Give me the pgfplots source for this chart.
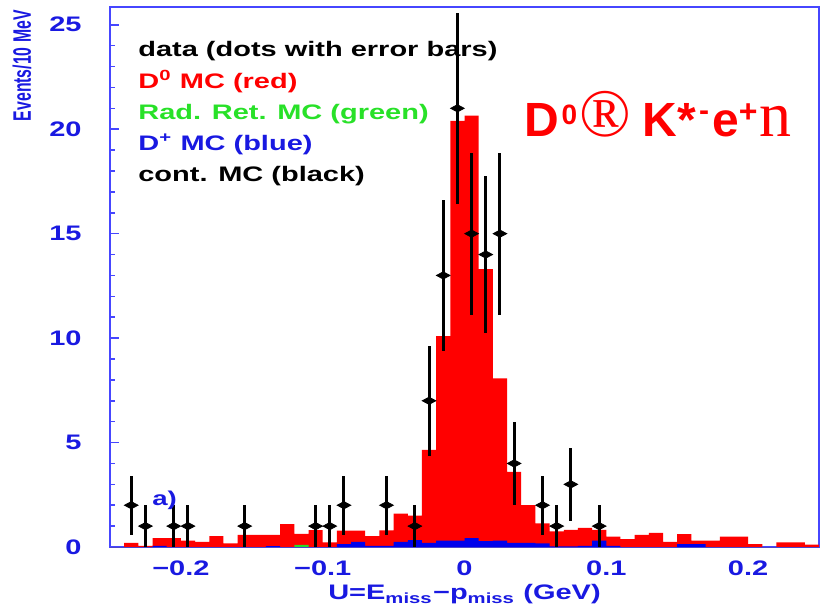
\documentclass[border=0pt]{standalone}
\usepackage{graphicx}
\usepackage{pgfplots}
\pgfplotsset{compat=1.18}
\usepackage{pgfplotstable}
\usepackage{fontspec}
\setmainfont{Liberation Sans}
\newfontfamily\seriffont{Liberation Serif}
\definecolor{frameblue}{RGB}{70,70,255}
\definecolor{labblue}{RGB}{25,25,225}
\definecolor{hred}{RGB}{255,0,0}
\definecolor{hblue}{RGB}{0,0,235}
\definecolor{hgreen}{RGB}{40,220,40}
\definecolor{txtgreen}{RGB}{40,225,40}
\newcommand\wide[1]{\scalebox{1.38}[1]{#1}}

\pgfplotstableread{
x y
-0.25 0
-0.24 0.2
-0.23 0.05
-0.22 0.42
-0.21 0.42
-0.20 0.3
-0.19 0.25
-0.18 0.52
-0.17 0.18
-0.16 0.58
-0.15 0.58
-0.14 0.58
-0.13 1.1
-0.12 0.63
-0.11 0.81
-0.10 0.22
-0.09 0.78
-0.08 0.78
-0.07 0.52
-0.06 0.8
-0.05 1.6
-0.04 1.5
-0.03 4.65
-0.02 10.1
-0.01 20.4
0.00 20.65
0.01 13.3
0.02 8.07
0.03 3.6
0.04 2.0
0.05 1.13
0.06 0.75
0.07 0.82
0.08 0.92
0.09 0.82
0.10 0.5
0.11 0.38
0.12 0.58
0.13 0.68
0.14 0.25
0.15 0.62
0.16 0.3
0.17 0.3
0.18 0.5
0.19 0.5
0.20 0.14
0.21 0.0
0.22 0.22
0.23 0.22
0.24 0.12
0.25 0.12
}\redtab

\pgfplotstableread{
x y
-0.25 0
-0.23 0
-0.22 0.05
-0.21 0
-0.14 0.04
-0.13 0
-0.09 0.14
-0.08 0.25
-0.07 0.05
-0.06 0.05
-0.05 0.25
-0.04 0.33
-0.03 0.2
-0.02 0.3
-0.01 0.3
0.00 0.42
0.01 0.28
0.02 0.3
0.03 0.2
0.04 0.2
0.05 0.17
0.06 0.03
0.07 0.03
0.08 0.05
0.09 0.3
0.10 0.05
0.11 0
0.15 0.14
0.16 0.14
0.17 0
0.25 0
}\bluetab

\pgfplotstableread{
x y
-0.25 0
-0.12 0.1
-0.11 0
0.25 0
}\greentab

\pgfplotstableread{
x y ey
-0.235 2 1.414
-0.225 1 1
-0.205 1 1
-0.195 1 1
-0.155 1 1
-0.105 1 1
-0.095 1 1
-0.085 2 1.414
-0.055 2 1.414
-0.035 1 1
-0.025 7 2.646
-0.015 13 3.606
-0.005 21 4.583
0.005 15 3.873
0.015 14 3.742
0.025 15 3.873
0.035 4 2
0.055 2 1.414
0.065 1 1
0.075 3 1.732
0.095 1 1
}\datatab

\begin{document}
\begin{tikzpicture}
\begin{axis}[
  name=ax,
  width=354.5pt, height=270pt, scale only axis,
  xmin=-0.25, xmax=0.25, ymin=0, ymax=25.85,
  clip=false,
  axis line style={frameblue, line width=1pt},
  xtick={-0.2,-0.1,0,0.1,0.2},
  xticklabels={\wide{−0.2},\wide{−0.1},\wide{0},\wide{0.1},\wide{0.2}},
  major x tick style={draw=none},
  ytick={0,5,10,15,20,25},
  yticklabels={\wide{0},\wide{5},\wide{10},\wide{15},\wide{20},\wide{25}},
  minor y tick num=4,
  ytick pos=left,
  tick align=inside,
  major tick length=4.5pt, minor tick length=2.5pt,
  y tick style={frameblue, line width=0.8pt},
  tick label style={font=\bfseries\fontsize{10.5}{11}\selectfont, text=labblue},
  yticklabel style={anchor=east, inner sep=0pt, xshift=-14pt},
  xticklabel style={anchor=north, inner sep=0pt, yshift=-6.5pt},
]
\addplot[const plot, fill=hred, draw=none] table[x=x,y=y]{\redtab} \closedcycle;
\addplot[const plot, fill=hgreen, draw=none] table[x=x,y=y]{\greentab} \closedcycle;
\addplot[const plot, fill=hblue, draw=none] table[x=x,y=y]{\bluetab} \closedcycle;
\addplot[only marks, black, mark=diamond*, mark size=1.8pt,
  mark options={xscale=2.5, fill=black, draw=black},
  error bars/.cd, y dir=both, y explicit, error mark=none,
  error bar style={line width=1.5pt, black}]
  table[x=x,y=y,y error=ey]{\datatab};

\begin{scope}[font=\bfseries\fontsize{10.5}{12}\selectfont, every node/.append style={inner sep=0pt}]
\node[anchor=base west, text=black] at (axis cs:-0.2303,23.46) {\wide{data (dots with error bars)}};
\node[anchor=base west, text=hred] at (axis cs:-0.2303,21.95) {\wide{D\textsuperscript{0} MC (red)}};
\node[anchor=base west, text=txtgreen] at (axis cs:-0.2303,20.46) {\wide{Rad. Ret. MC (green)}};
\node[anchor=base west, text=labblue] at (axis cs:-0.2303,19.0) {\wide{D\textsuperscript{+} MC (blue)}};
\node[anchor=base west, text=black] at (axis cs:-0.2303,17.48) {\wide{cont. MC (black)}};
\node[anchor=base west, text=labblue, font=\bfseries\fontsize{10}{12}\selectfont] at (axis cs:-0.2204,2.0) {\wide{a)}};
\end{scope}

\node[anchor=base west, inner sep=0pt, text=hred, font=\bfseries\fontsize{24}{26}\selectfont] at (axis cs:0.0423,19.67)
  {D\kern1pt\raisebox{6pt}{\fontsize{14}{14}\selectfont 0}\kern1pt{\seriffont\mdseries\fontsize{34}{34}\selectfont ®}\kern6pt K*\kern1.5pt\raisebox{8pt}{\fontsize{15}{15}\selectfont -}\kern1.5pt e\raisebox{7pt}{\fontsize{16}{16}\selectfont +}\kern1pt{\seriffont\mdseries\fontsize{32}{32}\selectfont n}};

\node[rotate=90, anchor=east, inner sep=0pt, text=labblue, font=\bfseries\fontsize{7.9}{9}\selectfont] at (rel axis cs:-0.1241,0.9944)
  {\scalebox{1}[1.6]{Events/10 MeV}};

\node[anchor=base, inner sep=0pt, text=labblue, font=\bfseries\fontsize{10.5}{12}\selectfont] at (rel axis cs:0.5,-0.0981)
  {\wide{U=E\textsubscript{miss}−p\textsubscript{miss} (GeV)}};
\end{axis}
\pgfresetboundingbox
\path[use as bounding box] ([xshift=-55pt,yshift=-29.5pt]ax.south west) rectangle ([xshift=4pt,yshift=3.5pt]ax.north east);
\end{tikzpicture}
\end{document}
